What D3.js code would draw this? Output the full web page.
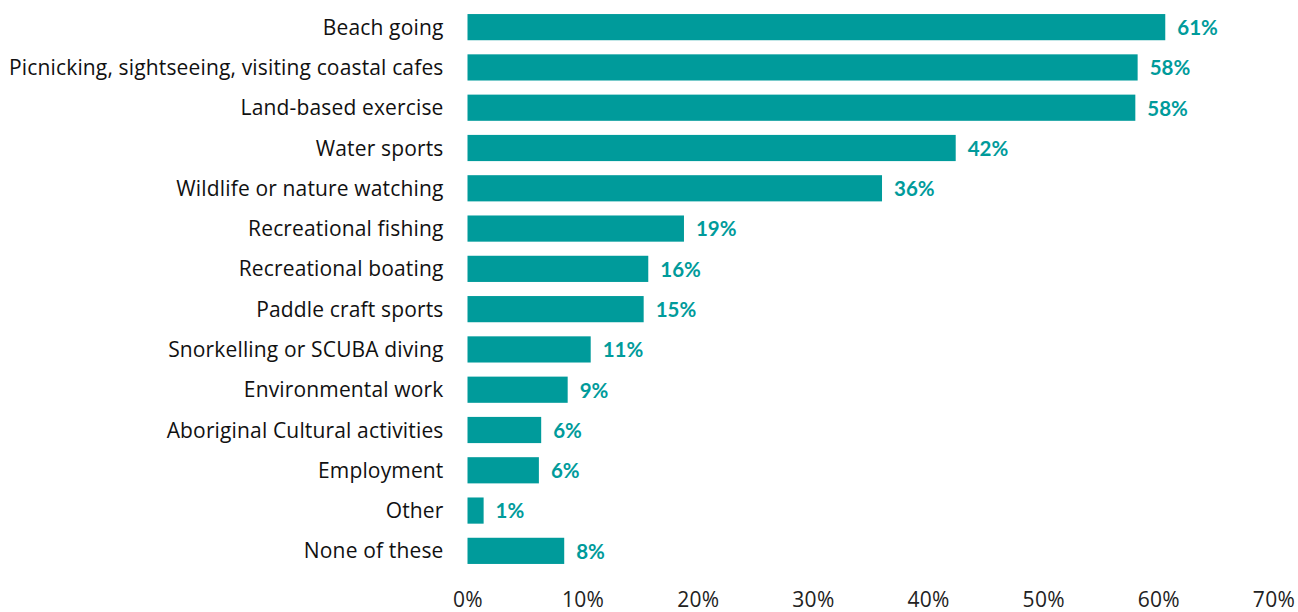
<!DOCTYPE html>
<html>
<head>
<meta charset="utf-8">
<script src="https://cdn.jsdelivr.net/npm/d3@7"></script>
<style>
  html, body { margin: 0; padding: 0; background: #fff; }
  svg { display: block; }
</style>
</head>
<body>
<svg id="chart" width="1298" height="612"></svg>
<script>
// Share of respondents taking part in each coastal activity (%)
const categories = [
  "Beach going",
  "Picnicking, sightseeing, visiting coastal cafes",
  "Land-based exercise",
  "Water sports",
  "Wildlife or nature watching",
  "Recreational fishing",
  "Recreational boating",
  "Paddle craft sports",
  "Snorkelling or SCUBA diving",
  "Environmental work",
  "Aboriginal Cultural activities",
  "Employment",
  "Other",
  "None of these"
];
const values = [60.6, 58.2, 58.0, 42.4, 36.0, 18.8, 15.7, 15.3, 10.7, 8.7, 6.4, 6.2, 1.4, 8.4];
const tickValues = [0, 10, 20, 30, 40, 50, 60, 70];

const svg = d3.select("#chart");
const font = "'Open Sans', sans-serif";
const boldFont = "Lato, 'Open Sans', sans-serif";
const teal = "#009b9b";

const x = d3.scaleLinear().domain([0, 70]).range([467.5, 1273.5]);
const y = d3.scaleBand().domain(categories).range([7, 571]).paddingInner(0.35).paddingOuter(0.175);

// bars
svg.append("g").selectAll("rect")
  .data(values)
  .join("rect")
  .attr("x", x(0))
  .attr("y", (d, i) => y(categories[i]))
  .attr("width", d => x(d) - x(0))
  .attr("height", y.bandwidth())
  .attr("fill", teal);

// value labels
svg.append("g").selectAll("text")
  .data(values)
  .join("text")
  .attr("x", d => x(d) + 12)
  .attr("y", (d, i) => y(categories[i]) + y.bandwidth() / 2)
  .attr("dy", "0.38em")
  .attr("font-family", boldFont)
  .attr("font-weight", "bold")
  .attr("font-size", 20.5)
  .attr("fill", teal)
  .text(d => Math.round(d) + "%");

// category axis
const yAxis = svg.append("g")
  .attr("transform", `translate(${x(0) - 24},0)`)
  .call(d3.axisLeft(y).tickSize(0).tickPadding(0));
yAxis.select(".domain").remove();
yAxis.selectAll("text")
  .attr("font-family", font)
  .attr("font-size", 21)
  .attr("letter-spacing", 0.15)
  .attr("fill", "#111")
  .attr("dy", "0.36em");

// percentage axis
const xAxis = svg.append("g")
  .attr("transform", "translate(0,591)")
  .call(d3.axisBottom(x).tickValues(tickValues).tickFormat(d => d + "%").tickSize(0).tickPadding(0));
xAxis.select(".domain").remove();
xAxis.selectAll("text")
  .attr("font-family", font)
  .attr("font-size", 21)
  .attr("letter-spacing", 0.3)
  .attr("fill", "#222")
  .attr("dy", "0.78em");
</script>
</body>
</html>
